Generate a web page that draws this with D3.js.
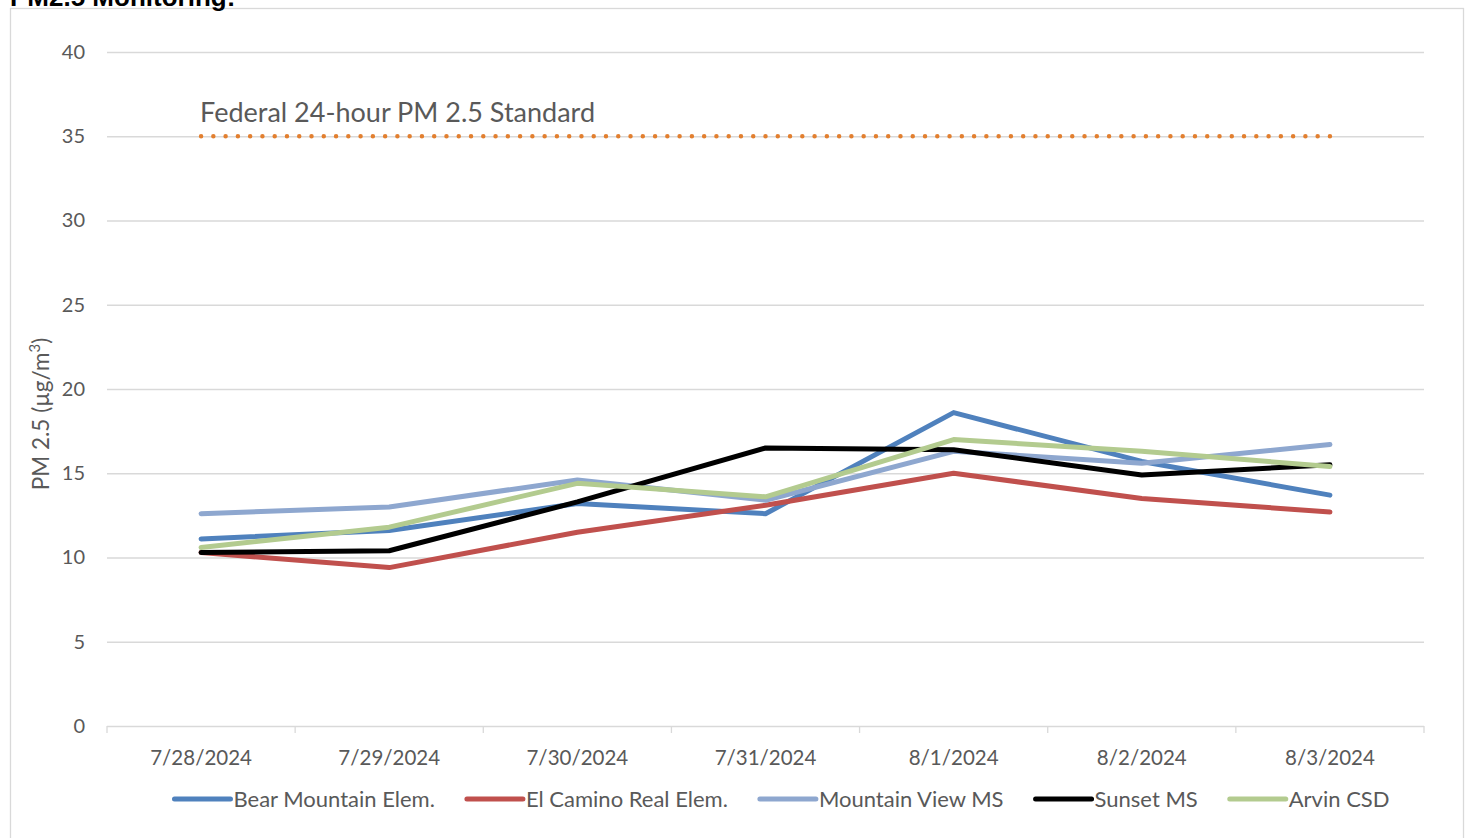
<!DOCTYPE html>
<html>
<head>
<meta charset="utf-8">
<script src="https://cdn.jsdelivr.net/npm/d3@7"></script>
<style>
  body { margin: 0; background: #fff; }
  text { font-family: Lato, "Open Sans", sans-serif; }
</style>
</head>
<body>
<svg id="chart" width="1468" height="838"></svg>
<script>
// data
const dates = ["7/28/2024", "7/29/2024", "7/30/2024", "7/31/2024", "8/1/2024", "8/2/2024", "8/3/2024"];
const bearMountain = [11.1, 11.6, 13.2, 12.6, 18.6, 15.7, 13.7];
const elCamino = [10.3, 9.4, 11.5, 13.1, 15.0, 13.5, 12.7];
const mountainView = [12.6, 13.0, 14.6, 13.4, 16.3, 15.6, 16.7];
const sunset = [10.3, 10.4, 13.3, 16.5, 16.4, 14.9, 15.5];
const arvin = [10.6, 11.8, 14.4, 13.6, 17.0, 16.3, 15.4];
const federalStandard = [35, 35, 35, 35, 35, 35, 35];
const yTicks = [0, 5, 10, 15, 20, 25, 30, 35, 40];

const seriesNames = ["Bear Mountain Elem.", "El Camino Real Elem.", "Mountain View MS", "Sunset MS", "Arvin CSD"];
const seriesValues = [bearMountain, elCamino, mountainView, sunset, arvin];
const seriesColors = ["#4F81BD", "#C0504D", "#8EA7CF", "#000000", "#B3CB8F"];

const svg = d3.select("#chart");
const textColor = "#595959";
const gridColor = "#D9D9D9";

// outer chart border
svg.append("rect")
  .attr("x", 10.5).attr("y", 8.5)
  .attr("width", 1453).attr("height", 840)
  .attr("fill", "#fff")
  .attr("stroke", gridColor)
  .attr("stroke-width", 1.3);

// cut-off title at the top
svg.append("text")
  .attr("x", 10)
  .attr("y", 6)
  .style("font-family", "'Liberation Sans', Arial, sans-serif")
  .style("font-size", "26px")
  .style("font-weight", "bold")
  .attr("fill", "#000")
  .text("PM2.5 Monitoring:");

const plot = { left: 107, right: 1424, top: 52, bottom: 726 };

const x = d3.scaleBand().domain(dates).range([plot.left, plot.right]);
const y = d3.scaleLinear().domain([0, 40]).range([plot.bottom, plot.top]);
const cx = d => x(d) + x.bandwidth() / 2;

// gridlines + y labels
const yAxis = svg.append("g")
  .attr("transform", `translate(${plot.left},0)`)
  .call(d3.axisLeft(y).tickValues(yTicks).tickSize(-(plot.right - plot.left)).tickPadding(22));
yAxis.select(".domain").remove();
yAxis.selectAll(".tick line").attr("stroke", gridColor).attr("stroke-width", 1.3);
yAxis.selectAll(".tick text")
  .attr("fill", textColor)
  .style("font-size", "20px")
  .style("font-family", "Lato, sans-serif");

// x axis labels
const xAxis = svg.append("g")
  .attr("transform", `translate(0,${plot.bottom})`)
  .call(d3.axisBottom(x).tickSize(0).tickPadding(24));
xAxis.select(".domain").remove();
xAxis.selectAll(".tick text")
  .attr("fill", textColor)
  .style("font-size", "20.5px")
  .style("font-family", "Lato, sans-serif");

// category boundary ticks
svg.append("g")
  .selectAll("line")
  .data(dates.concat([null]))
  .join("line")
  .attr("x1", (d, i) => i < dates.length ? x(d) : plot.right)
  .attr("x2", (d, i) => i < dates.length ? x(d) : plot.right)
  .attr("y1", plot.bottom)
  .attr("y2", plot.bottom + 7)
  .attr("stroke", gridColor)
  .attr("stroke-width", 1.3);

// y axis title
svg.append("text")
  .attr("transform", "translate(49,414) rotate(-90)")
  .attr("text-anchor", "middle")
  .attr("fill", textColor)
  .style("font-size", "22.5px")
  .call(t => {
    t.append("tspan").text("PM 2.5 (µg/m");
    t.append("tspan").attr("baseline-shift", "super").style("font-size", "15px").text("3");
    t.append("tspan").text(")");
  });

// federal standard dotted line
const line = d3.line().x((d, i) => cx(dates[i])).y(d => y(d));
const stdLen = cx(dates[dates.length - 1]) - cx(dates[0]);
const dotGap = stdLen / 92;
svg.append("path")
  .datum(federalStandard)
  .attr("d", line)
  .attr("fill", "none")
  .attr("stroke", "#E27F2F")
  .attr("stroke-width", 4.5)
  .attr("stroke-linecap", "round")
  .attr("stroke-dasharray", `0 ${dotGap}`);

svg.append("text")
  .attr("x", cx(dates[0]) - 1)
  .attr("y", y(35) - 14)
  .attr("fill", textColor)
  .style("font-size", "27px")
  .text("Federal 24-hour PM 2.5 Standard");

// series lines
svg.append("g")
  .selectAll("path")
  .data(seriesValues)
  .join("path")
  .attr("d", line)
  .attr("fill", "none")
  .attr("stroke", (d, i) => seriesColors[i])
  .attr("stroke-width", 5)
  .attr("stroke-linecap", "round")
  .attr("stroke-linejoin", "round");

// legend
const legend = svg.append("g").attr("transform", "translate(0,799)");
const items = legend.selectAll("g")
  .data(seriesNames)
  .join("g");
items.append("line")
  .attr("x1", 0).attr("x2", 56)
  .attr("stroke", (d, i) => seriesColors[i])
  .attr("stroke-width", 5)
  .attr("stroke-linecap", "round");
items.append("text")
  .attr("x", 59)
  .attr("dy", "0.35em")
  .attr("fill", textColor)
  .style("font-size", "22px")
  .text(d => d);

const widths = [];
items.each(function () { widths.push(this.getBBox().width); });
const gap = 32;
const total = d3.sum(widths) + gap * (widths.length - 1);
let pos = 782 - total / 2;
items.attr("transform", (d, i) => {
  const t = `translate(${pos},0)`;
  pos += widths[i] + gap;
  return t;
});
</script>
</body>
</html>
